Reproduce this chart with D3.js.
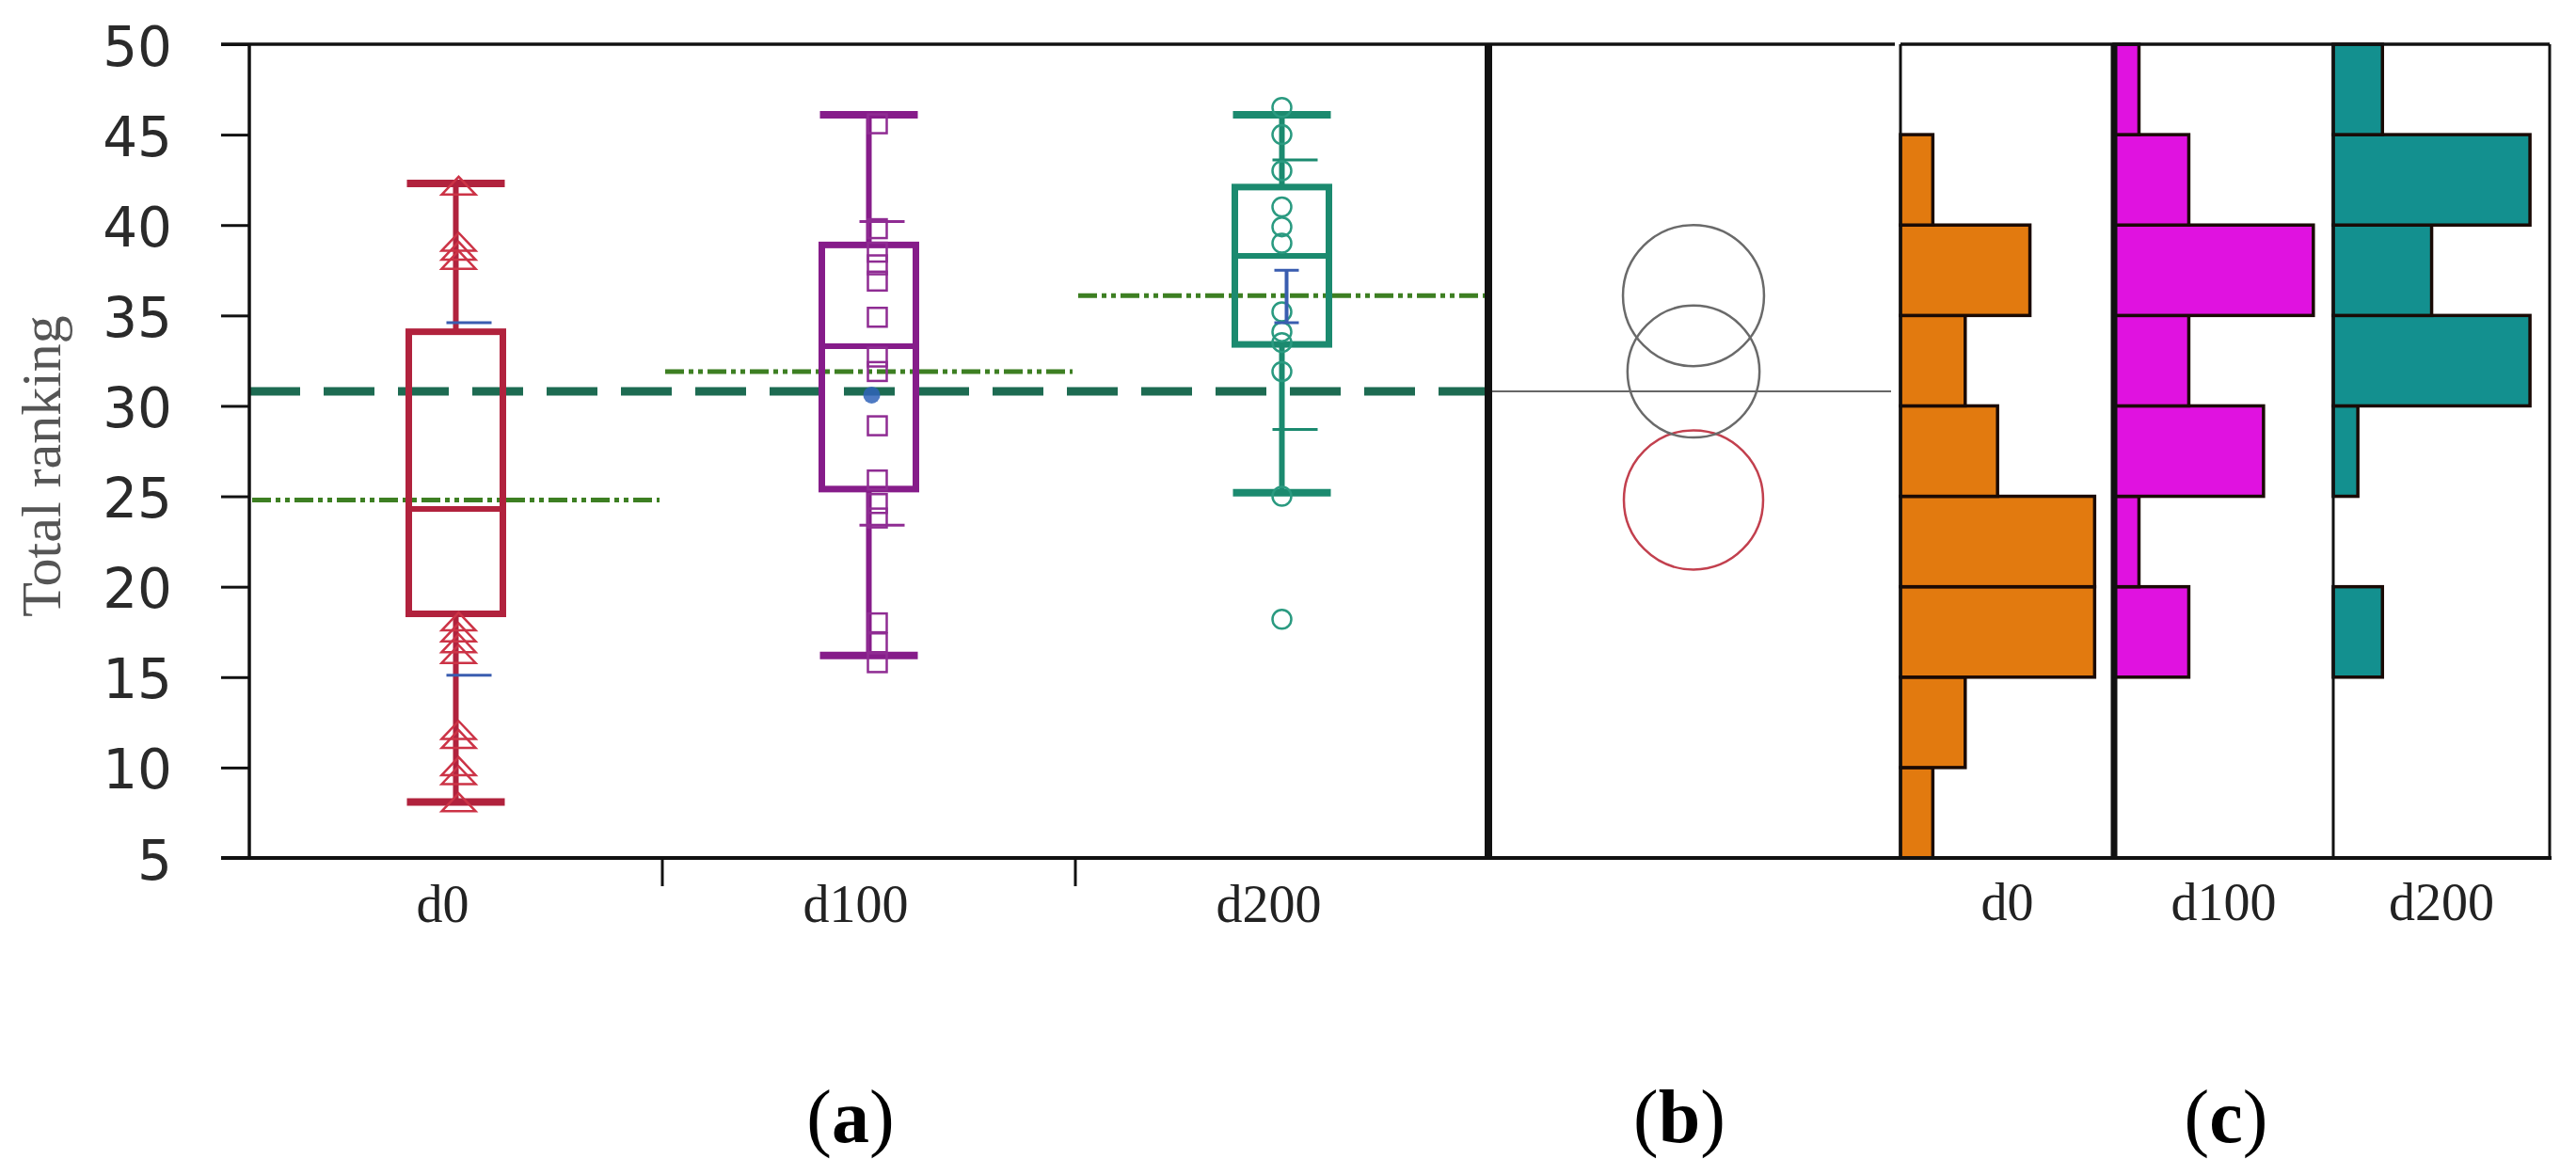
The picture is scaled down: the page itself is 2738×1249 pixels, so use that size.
<!DOCTYPE html>
<html>
<head>
<meta charset="utf-8">
<script src="https://cdn.jsdelivr.net/npm/d3@7/dist/d3.min.js"></script>
<style>
  html, body { margin: 0; padding: 0; background: #ffffff; }
  svg { display: block; }
</style>
</head>
<body>
<svg id="chart" width="2738" height="1249"></svg>
<script>
// ---------------- data ----------------
const groups = ["d0", "d100", "d200"];
const yTicks = [5, 10, 15, 20, 25, 30, 35, 40, 45, 50];
const whiskerLow  = [8.1, 16.2, 25.2];
const quartile1   = [18.5, 25.4, 33.4];
const medians     = [24.3, 33.3, 38.3];
const quartile3   = [34.1, 38.9, 42.1];
const whiskerHigh = [42.3, 46.1, 46.1];
const quantileLow  = [15.1, 23.4, 28.7];
const quantileHigh = [34.6, 40.2, 43.6];
const groupMeans = [24.8, 31.9, 36.1];
const grandMean = 30.8;
const circleRadius = [3.85, 3.65, 3.9];
const meanErrLow  = [null, null, 34.6];
const meanErrHigh = [null, null, 37.5];
const highlighted = [null, 30.6, null];

const pointsD0   = [42.1, 39.0, 38.5, 38.0, 18.0, 17.4, 16.8, 16.2, 12.0, 11.5, 10.0, 9.5, 8.0];
const pointsD100 = [45.6, 39.8, 38.5, 37.8, 36.9, 34.9, 32.7, 31.9, 28.9, 25.9, 24.6, 23.8, 18.0, 16.9, 15.8];
const pointsD200 = [46.5, 45.0, 43.0, 41.0, 39.9, 39.0, 35.2, 34.1, 33.5, 31.9, 25.0, 18.2];

const binEdges = [5, 10, 15, 20, 25, 30, 35, 40, 45, 50];
const histD0   = [1, 2, 6, 6, 3, 2, 4, 1, 0];
const histD100 = [0, 0, 3, 1, 6, 3, 8, 3, 1];
const histD200 = [0, 0, 2, 0, 1, 8, 4, 8, 2];

const panelLabels = ["a", "b", "c"];

// ---------------- styles ----------------
const boxColors   = ["#b1223d", "#861c8a", "#1b8a6f"];
const pointColors = ["#cc3346", "#8f2c93", "#2a9a80"];
const histColors  = ["#e27a0f", "#e012e0", "#13908f"];
const ciColors    = ["#3a5db0", "#8f2c93", "#1b8a6f"];

const svg = d3.select("#chart");
const plotTop = 47, plotBottom = 912;
const aLeft = 265, aRight = 1582, bRight = 2018;
const histBounds = [[2020, 2247], [2247, 2480], [2480, 2710]];

const y = d3.scaleLinear().domain([5, 50]).range([plotBottom, plotTop]);
const x = d3.scaleBand().domain(groups).range([aLeft, aRight]).padding(0);

const serif = "'Liberation Serif', 'Times New Roman', serif";

// ---------------- panel (a) ----------------
const gA = svg.append("g");

gA.append("line")
  .attr("x1", aLeft).attr("x2", aRight)
  .attr("y1", y(grandMean)).attr("y2", y(grandMean))
  .attr("stroke", "#1d6b52").attr("stroke-width", 9)
  .attr("stroke-dasharray", "54,25");

groups.forEach((g, i) => {
  gA.append("line")
    .attr("x1", x(g) + 3).attr("x2", x(g) + x.bandwidth() - 3)
    .attr("y1", y(groupMeans[i])).attr("y2", y(groupMeans[i]))
    .attr("stroke", "#3d7f22").attr("stroke-width", 5)
    .attr("stroke-dasharray", "20,5,5,5,5,5");
});

const boxW = 100, capW = 104;
groups.forEach((g, i) => {
  const cx = x(g) + x.bandwidth() / 2;
  const c = boxColors[i];
  const grp = gA.append("g");
  grp.append("line").attr("x1", cx).attr("x2", cx)
    .attr("y1", y(whiskerLow[i])).attr("y2", y(quartile1[i]))
    .attr("stroke", c).attr("stroke-width", 6);
  grp.append("line").attr("x1", cx).attr("x2", cx)
    .attr("y1", y(quartile3[i])).attr("y2", y(whiskerHigh[i]))
    .attr("stroke", c).attr("stroke-width", 6);
  [whiskerLow[i], whiskerHigh[i]].forEach(v => {
    grp.append("line").attr("x1", cx - capW / 2).attr("x2", cx + capW / 2)
      .attr("y1", y(v)).attr("y2", y(v))
      .attr("stroke", c).attr("stroke-width", 8);
  });
  grp.append("rect")
    .attr("x", cx - boxW / 2).attr("width", boxW)
    .attr("y", y(quartile3[i])).attr("height", y(quartile1[i]) - y(quartile3[i]))
    .attr("fill", "none").attr("stroke", c).attr("stroke-width", 7);
  grp.append("line").attr("x1", cx - boxW / 2).attr("x2", cx + boxW / 2)
    .attr("y1", y(medians[i])).attr("y2", y(medians[i]))
    .attr("stroke", c).attr("stroke-width", 6);
  [quantileLow[i], quantileHigh[i]].forEach(v => {
    grp.append("line").attr("x1", cx - 10).attr("x2", cx + 38)
      .attr("y1", y(v)).attr("y2", y(v))
      .attr("stroke", ciColors[i]).attr("stroke-width", 3);
  });
});

const pointSets = [pointsD0, pointsD100, pointsD200];
pointSets.forEach((pts, i) => {
  const cx = x(groups[i]) + x.bandwidth() / 2;
  const c = pointColors[i];
  const grp = gA.append("g").attr("fill", "none").attr("stroke", c).attr("stroke-width", 2.5);
  pts.forEach(v => {
    if (i === 0) {
      const px = cx + 3, py = y(v);
      grp.append("path")
        .attr("d", `M${px - 18},${py + 8} L${px},${py - 11} L${px + 18},${py + 8} Z`);
    } else if (i === 1) {
      grp.append("rect")
        .attr("x", cx + 9 - 10).attr("y", y(v) - 10)
        .attr("width", 20).attr("height", 20);
    } else {
      grp.append("circle").attr("cx", cx).attr("cy", y(v)).attr("r", 10);
    }
  });
});

groups.forEach((g, i) => {
  const cx = x(g) + x.bandwidth() / 2;
  if (meanErrLow[i] !== null) {
    gA.append("line").attr("x1", cx + 5).attr("x2", cx + 5)
      .attr("y1", y(meanErrLow[i])).attr("y2", y(meanErrHigh[i]))
      .attr("stroke", "#3a5db0").attr("stroke-width", 4);
    [meanErrLow[i], meanErrHigh[i]].forEach(v => {
      gA.append("line").attr("x1", cx - 8).attr("x2", cx + 18)
        .attr("y1", y(v)).attr("y2", y(v))
        .attr("stroke", "#3a5db0").attr("stroke-width", 3);
    });
  }
  if (highlighted[i] !== null) {
    gA.append("circle").attr("cx", cx + 3).attr("cy", y(highlighted[i])).attr("r", 9)
      .attr("fill", "#2f63b8").attr("opacity", 0.85);
  }
});

// y axis
const yAxis = d3.axisLeft(y).tickValues(yTicks).tickSize(30).tickPadding(52);
const gy = svg.append("g").attr("transform", `translate(${aLeft},0)`).call(yAxis);
gy.select(".domain").remove();
gy.selectAll(".tick line").attr("stroke", "#111").attr("stroke-width", 3);
gy.selectAll(".tick text")
  .attr("font-family", "'DejaVu Sans', sans-serif")
  .attr("font-size", 58).attr("fill", "#2a2a2a").attr("dy", "0.38em");

svg.append("text")
  .attr("transform", `translate(64,${(plotTop + plotBottom) / 2 + 16}) rotate(-90)`)
  .attr("text-anchor", "middle")
  .attr("font-family", serif).attr("font-size", 60).attr("fill", "#555")
  .text("Total ranking");

// x axis labels and boundary ticks
const xAxis = d3.axisBottom(x).tickSize(0).tickPadding(0);
const gx = svg.append("g").attr("transform", `translate(-14,${plotBottom})`).call(xAxis);
gx.select(".domain").remove();
gx.selectAll(".tick text")
  .attr("font-family", serif).attr("font-size", 56).attr("fill", "#222")
  .attr("y", 68).attr("dy", 0);

groups.slice(1).forEach(g => {
  svg.append("line").attr("x1", x(g)).attr("x2", x(g))
    .attr("y1", plotBottom).attr("y2", plotBottom + 30)
    .attr("stroke", "#111").attr("stroke-width", 3);
});

// ---------------- panel (b) ----------------
const gB = svg.append("g");
gB.append("line").attr("x1", aRight).attr("x2", bRight - 8)
  .attr("y1", y(grandMean)).attr("y2", y(grandMean))
  .attr("stroke", "#666").attr("stroke-width", 2);
const bCx = (aRight + bRight) / 2;
groups.forEach((g, i) => {
  gB.append("circle")
    .attr("cx", bCx).attr("cy", y(groupMeans[i]))
    .attr("r", y(groupMeans[i] - circleRadius[i]) - y(groupMeans[i]))
    .attr("fill", "none")
    .attr("stroke", i === 0 ? "#c2404e" : "#6a6a6a")
    .attr("stroke-width", 2.5);
});

// ---------------- panel (c) histograms ----------------
const hists = [histD0, histD100, histD200];
const bins = d3.pairs(binEdges);
hists.forEach((h, i) => {
  const [l, r] = histBounds[i];
  const hx = d3.scaleLinear().domain([0, d3.max(h) * 1.1]).range([l, r]);
  const gH = svg.append("g");
  gH.selectAll("rect").data(bins.map((b, k) => ({ lo: b[0], hi: b[1], n: h[k] })).filter(d => d.n > 0))
    .join("rect")
    .attr("x", hx(0)).attr("width", d => hx(d.n) - hx(0))
    .attr("y", d => y(d.hi)).attr("height", d => y(d.lo) - y(d.hi))
    .attr("fill", histColors[i]).attr("stroke", "#1a0a05").attr("stroke-width", 3.5);
  svg.append("text")
    .attr("x", (l + r) / 2).attr("y", plotBottom + 66)
    .attr("text-anchor", "middle")
    .attr("font-family", serif).attr("font-size", 56).attr("fill", "#222")
    .text(groups[i]);
});

// ---------------- frame lines ----------------
const frame = svg.append("g").attr("stroke", "#111").attr("fill", "none");
frame.append("line").attr("x1", aLeft - 30).attr("x2", bRight - 4).attr("y1", plotTop).attr("y2", plotTop).attr("stroke-width", 3.5);
frame.append("line").attr("x1", 2020).attr("x2", 2710).attr("y1", plotTop).attr("y2", plotTop).attr("stroke-width", 3.5);
frame.append("line").attr("x1", aLeft - 30).attr("x2", 2712).attr("y1", plotBottom).attr("y2", plotBottom).attr("stroke-width", 4);
frame.append("line").attr("x1", aLeft).attr("x2", aLeft).attr("y1", plotTop).attr("y2", plotBottom).attr("stroke-width", 3.5);
frame.append("line").attr("x1", aRight).attr("x2", aRight).attr("y1", plotTop).attr("y2", plotBottom).attr("stroke-width", 8);
frame.append("line").attr("x1", 2020).attr("x2", 2020).attr("y1", plotTop).attr("y2", plotBottom).attr("stroke-width", 3);
frame.append("line").attr("x1", 2247).attr("x2", 2247).attr("y1", plotTop).attr("y2", plotBottom).attr("stroke-width", 7);
frame.append("line").attr("x1", 2480).attr("x2", 2480).attr("y1", plotTop).attr("y2", plotBottom).attr("stroke-width", 3);
frame.append("line").attr("x1", 2710).attr("x2", 2710).attr("y1", plotTop).attr("y2", plotBottom).attr("stroke-width", 3);

// ---------------- panel labels ----------------
const labelX = [904, 1785, 2366];
panelLabels.forEach((t, i) => {
  const tx = svg.append("text")
    .attr("x", labelX[i]).attr("y", 1214)
    .attr("text-anchor", "middle")
    .attr("font-family", serif).attr("font-size", 80).attr("fill", "#000");
  tx.append("tspan").text("(");
  tx.append("tspan").attr("font-weight", "bold").text(t);
  tx.append("tspan").text(")");
});
</script>
</body>
</html>
